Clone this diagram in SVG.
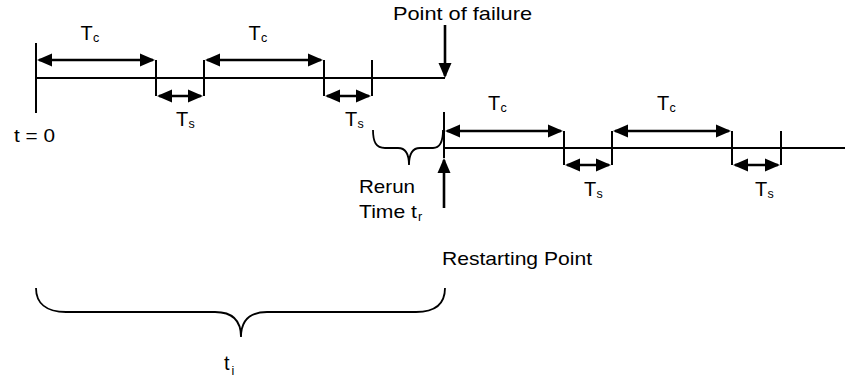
<svg xmlns="http://www.w3.org/2000/svg" width="845" height="379" viewBox="0 0 845 379">
<style>
.ln{stroke:#000;stroke-width:2;fill:none}
.ar{stroke:#000;stroke-width:2.6;fill:none;marker-start:url(#ah);marker-end:url(#ah)}
.one{stroke:#000;stroke-width:2.6;fill:none;marker-end:url(#ah)}
.br{stroke:#000;stroke-width:1.8;fill:none}
text{font-family:"Liberation Sans",Arial,sans-serif;fill:#000}
.t{font-size:18.5px}
.T{font-size:20px}
.s{font-size:12.5px}
</style>
<defs>
<marker id="ah" markerUnits="userSpaceOnUse" markerWidth="16" markerHeight="14" refX="13" refY="6.5" orient="auto-start-reverse" viewBox="0 0 16 13">
<path d="M0,0 L15,6.5 L0,13 z" fill="#000"/>
</marker>
</defs>
<g id="timeline-1">
<line class="ln" x1="36" y1="78" x2="445" y2="78"/>
<line class="ln" x1="36" y1="43" x2="36" y2="113"/>
<line class="ln" x1="156" y1="60" x2="156" y2="96"/>
<line class="ln" x1="204" y1="60" x2="204" y2="96"/>
<line class="ln" x1="324" y1="60" x2="324" y2="96"/>
<line class="ln" x1="372" y1="60" x2="372" y2="96"/>
</g>
<g id="timeline-2">
<line class="ln" x1="444" y1="148" x2="845" y2="148"/>
<line class="ln" x1="444" y1="112" x2="444" y2="158"/>
<line class="ln" x1="564" y1="131" x2="564" y2="165"/>
<line class="ln" x1="612" y1="131" x2="612" y2="165"/>
<line class="ln" x1="732" y1="131" x2="732" y2="165"/>
<line class="ln" x1="781" y1="131" x2="781" y2="165"/>
</g>
<g id="connectors">
<line class="ar" x1="39" y1="60" x2="153" y2="60"/>
<line class="ar" x1="207" y1="60" x2="321" y2="60"/>
<line class="ar" x1="159" y1="96" x2="201" y2="96"/>
<line class="ar" x1="327" y1="96" x2="369" y2="96"/>
<line class="ar" x1="447" y1="131" x2="561" y2="131"/>
<line class="ar" x1="615" y1="131" x2="729" y2="131"/>
<line class="ar" x1="567" y1="165" x2="609" y2="165"/>
<line class="ar" x1="735" y1="165" x2="778" y2="165"/>
<line class="one" x1="445" y1="25" x2="445" y2="76"/>
<line class="one" x1="444" y1="208" x2="444" y2="160"/>
</g>
<g id="braces">
<path class="br" d="M373,130 C373,142 376,148 385,148 L398,148 C405,148 409,153 409,165 C409,153 413,148 420,148 L433,148 C440,148 443,142 443,130"/>
<path class="br" d="M36,288 C36,303 46,312 66,312 L215,312 C232,312 241,320 241,337 C241,320 250,312 267,312 L416,312 C436,312 445,303 445,288"/>
</g>
<g id="labels">
<text class="t" x="393" y="20" textLength="139" lengthAdjust="spacingAndGlyphs">Point of failure</text>
<text class="t" x="14" y="142" textLength="41" lengthAdjust="spacingAndGlyphs">t = 0</text>
<text class="t" x="359" y="193" textLength="56" lengthAdjust="spacingAndGlyphs">Rerun</text>
<text class="t" x="359" y="218" textLength="58" lengthAdjust="spacingAndGlyphs">Time t</text>
<text class="s" x="418" y="221">r</text>
<text class="t" x="442" y="265" textLength="150" lengthAdjust="spacingAndGlyphs">Restarting Point</text>
<text class="T" x="224" y="370">t</text>
<text class="s" x="231.5" y="375">i</text>
<text class="T" x="80.5" y="40">T</text><text class="s" x="93" y="42">c</text>
<text class="T" x="248.5" y="40">T</text><text class="s" x="261" y="42">c</text>
<text class="T" x="488" y="110">T</text><text class="s" x="500.5" y="112">c</text>
<text class="T" x="657" y="110">T</text><text class="s" x="669.5" y="112">c</text>
<text class="T" x="176" y="126">T</text><text class="s" x="188.5" y="128">s</text>
<text class="T" x="345" y="126">T</text><text class="s" x="357.5" y="128">s</text>
<text class="T" x="584" y="196">T</text><text class="s" x="596.5" y="198">s</text>
<text class="T" x="755" y="196">T</text><text class="s" x="767.5" y="198">s</text>
</g>
</svg>
